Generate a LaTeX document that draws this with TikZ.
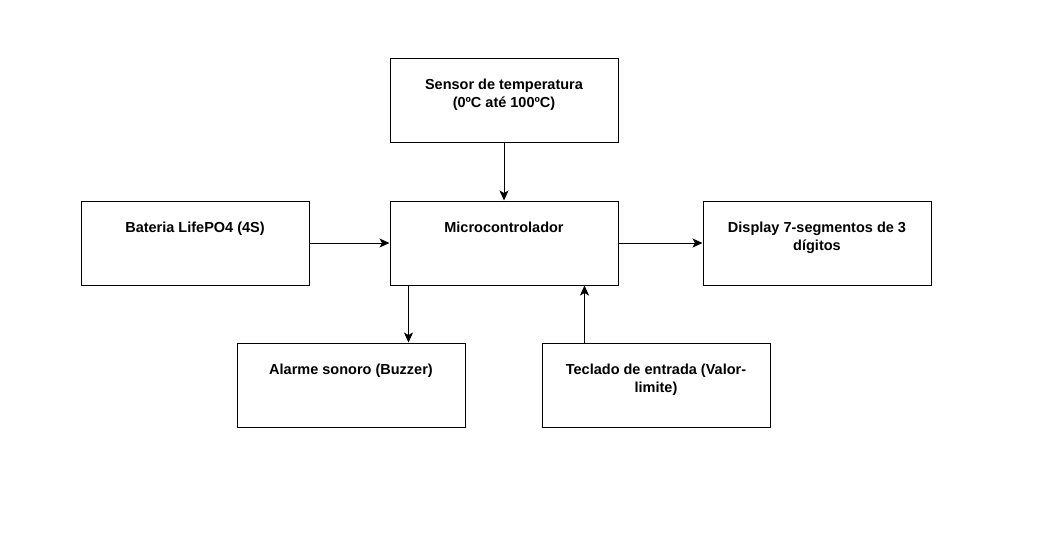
\documentclass[tikz,border=0pt]{standalone}
\usepackage{fontspec}
\setmainfont{Liberation Sans}
\usepackage{tikz}
\usetikzlibrary{positioning,calc,arrows.meta}
\tikzset{ARROW/.style={line width=1pt, -{Stealth[length=10pt,width=9pt,inset=2.5pt]}}}
\tikzset{BLOCK/.style={rectangle, minimum width=228pt, minimum height=84pt, draw, line width=1pt}}
\tikzset{LABEL/.style={anchor=north, inner sep=0pt, align=center, font=\bfseries\fontsize{14.5}{18}\selectfont, yshift=-21pt}}

\begin{document}
\begin{tikzpicture}[x=1pt, y=-1pt]
    \useasboundingbox (0,0) rectangle (1039,550);

    \node[BLOCK] (n_sensor) at (504,100) {};
    \node[BLOCK] (n_micro) at (504,243) {};
    \node[BLOCK, left=80pt of n_micro] (n_bateria) {};
    \node[BLOCK, right=84pt of n_micro] (n_display) {};
    \node[BLOCK] (n_alarme) at (351,385) {};
    \node[BLOCK] (n_teclado) at (656,385) {};

    \node[LABEL] at (n_sensor.north) {Sensor de temperatura\\(0ºC até 100ºC)};
    \node[LABEL] at (n_micro.north) {Microcontrolador};
    \node[LABEL] at (n_bateria.north) {Bateria LifePO4 (4S)};
    \node[LABEL] at (n_display.north) {Display 7-segmentos de 3\\dígitos};
    \node[LABEL] at (n_alarme.north) {Alarme sonoro (Buzzer)};
    \node[LABEL] at (n_teclado.north) {Teclado de entrada (Valor-\\limite)};

    \draw[ARROW] (n_sensor) -- (n_micro);
    \draw[ARROW] (n_bateria) -- (n_micro);
    \draw[ARROW] (n_micro) -- (n_display);

    \coordinate (alarme_in) at ($(n_micro.south west)+(19,0)$);
    \draw[ARROW] (alarme_in) -- (alarme_in |- n_alarme.north);

    \coordinate (teclado_out) at ($(n_teclado.north west)+(43,0)$);
    \draw[ARROW] (teclado_out) -- (teclado_out |- n_micro.south);

\end{tikzpicture}
\end{document}
